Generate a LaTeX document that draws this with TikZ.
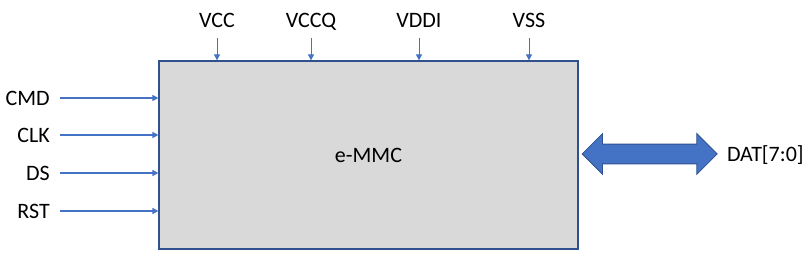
\documentclass[tikz,border=0pt]{standalone}
\usepackage{fontspec}
\setmainfont{Carlito}
\usetikzlibrary{positioning, arrows.meta, shapes.arrows}

\definecolor{chipfill}{HTML}{D9D9D9}
\definecolor{chipline}{HTML}{2F528F}
\definecolor{sigblue}{HTML}{4472C4}

\begin{document}
\begin{tikzpicture}[
    x=0.75pt, y=-0.75pt, >=Stealth,
    chip/.style={rectangle, draw=chipline, fill=chipfill, line width=0.9pt,
                 minimum width=314.25pt, minimum height=141pt, inner sep=0pt},
    lbl/.style={font=\fontsize{16.5}{20}\selectfont, text depth=0pt},
    inlbl/.style={lbl, anchor=east, inner xsep=7.5pt, inner ysep=0pt},
    pwrlbl/.style={lbl, anchor=south, inner xsep=0pt, inner ysep=7.5pt},
    arrow/.style={-{Triangle[length=4.5pt, width=4.5pt]}, sigblue, line width=1.1pt},
    pwrarrow/.style={-{Triangle[length=4.5pt, width=4.5pt]}, sigblue, line width=0.6pt},
    bus/.style={double arrow, draw=chipline, fill=sigblue, line width=0.6pt,
                minimum height=101.25pt, text height=0pt, text depth=0pt,
                double arrow head extend=7.9pt, double arrow head indent=0pt,
                inner xsep=0pt, inner ysep=7.1pt}
]
  \useasboundingbox (0,0) rectangle (809,266);

  % the chip
  \node[chip, lbl] (emmc) at (368.5,155) {e-MMC};

  % left: input signals
  \node[inlbl] (cmd) at (60,98) {CMD};
  \node[inlbl] (clk) at (60,135) {CLK};
  \node[inlbl] (ds) at (60,173) {DS};
  \node[inlbl] (rst) at (60,211) {RST};

  \draw[arrow] (cmd.east) -- (cmd.east -| emmc.west);
  \draw[arrow] (clk.east) -- (clk.east -| emmc.west);
  \draw[arrow] (ds.east) -- (ds.east -| emmc.west);
  \draw[arrow] (rst.east) -- (rst.east -| emmc.west);

  % top: supplies
  \node[pwrlbl] (vcc) at (217,38) {VCC};
  \node[pwrlbl] (vccq) at (311,38) {VCCQ};
  \node[pwrlbl] (vddi) at (419,38) {VDDI};
  \node[pwrlbl] (vss) at (529,38) {VSS};

  \draw[pwrarrow] (vcc.south) -- (vcc.south |- emmc.north);
  \draw[pwrarrow] (vccq.south) -- (vccq.south |- emmc.north);
  \draw[pwrarrow] (vddi.south) -- (vddi.south |- emmc.north);
  \draw[pwrarrow] (vss.south) -- (vss.south |- emmc.north);

  % right: data bus
  \node[bus, right=2.25pt of emmc, yshift=0.75pt] (dat) {};
  \node[lbl, right=6.75pt of dat, inner sep=0pt] (datlbl) {DAT[7:0]};
\end{tikzpicture}
\end{document}
